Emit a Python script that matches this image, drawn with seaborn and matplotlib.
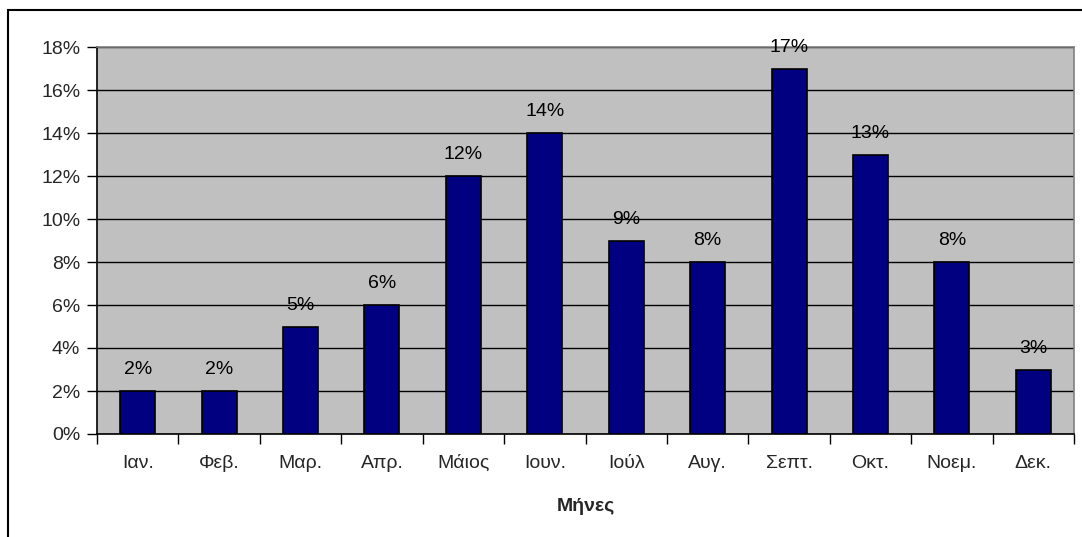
import matplotlib
matplotlib.use("Agg")
import matplotlib.pyplot as plt
import matplotlib.patches as mpatches
from matplotlib.ticker import FuncFormatter, FixedLocator
import seaborn as sns
import pandas as pd

months = ["Ιαν.", "Φεβ.", "Μαρ.", "Απρ.", "Μάιος", "Ιουν.", "Ιούλ", "Αυγ.",
          "Σεπτ.", "Οκτ.", "Νοεμ.", "Δεκ."]
shares = [2, 2, 5, 6, 12, 14, 9, 8, 17, 13, 8, 3]  # percent
y_ticks = [0, 2, 4, 6, 8, 10, 12, 14, 16, 18]
x_title = "Μήνες"

sns.set_theme(style="white")
plt.rcParams["font.family"] = ["Liberation Sans", "DejaVu Sans"]

FS = 14

df = pd.DataFrame({"month": months, "share": shares})

fig = plt.figure(figsize=(10.82, 5.37), dpi=100)
ax = fig.add_axes([97 / 1082, 1 - 434 / 537, (1074 - 97) / 1082, (434 - 47) / 537])
ax.set_facecolor("#C0C0C0")

sns.barplot(data=df, x="month", y="share", color="#000080", edgecolor="black",
            linewidth=1.2, width=0.43, saturation=1, ax=ax, zorder=3)

ax.set_ylim(0, 18)
ax.set_xlim(-0.5, len(months) - 0.5)
ax.yaxis.set_major_locator(FixedLocator(y_ticks))
ax.yaxis.set_major_formatter(FuncFormatter(lambda v, p: f"{v:.0f}%"))
ax.grid(axis="y", color="black", linewidth=1.0, zorder=1)
ax.set_axisbelow(True)

for s in ax.spines.values():
    s.set_color("#808080")
    s.set_linewidth(1.2)
ax.spines["left"].set_color("black")
ax.spines["bottom"].set_color("black")

# ticks: y on left, x at category boundaries
ax.tick_params(axis="y", which="major", left=True, length=7, width=1, color="black",
               labelsize=FS, pad=5)
ax.tick_params(axis="x", which="major", bottom=False, labelsize=FS, pad=9)
ax.set_xticks(range(len(months)))
ax.set_xticklabels(months)
ax.set_xticks([i - 0.5 for i in range(len(months) + 1)], minor=True)
ax.tick_params(axis="x", which="minor", bottom=True, length=7, width=1, color="black")

for i, v in enumerate(shares):
    ax.text(i, v + 0.6, f"{v}%", ha="center", va="bottom", fontsize=FS, color="black")

ax.set_xlabel(x_title, fontsize=FS, fontweight="bold", labelpad=19)
ax.set_ylabel("")

# outer chart border
fig.patches.append(mpatches.Rectangle((8 / 1082, -0.05), 1.2, 1 - 10 / 537 + 0.05,
                                      transform=fig.transFigure, fill=False,
                                      edgecolor="black", linewidth=1.5))

fig.savefig("out.png", dpi=100)
